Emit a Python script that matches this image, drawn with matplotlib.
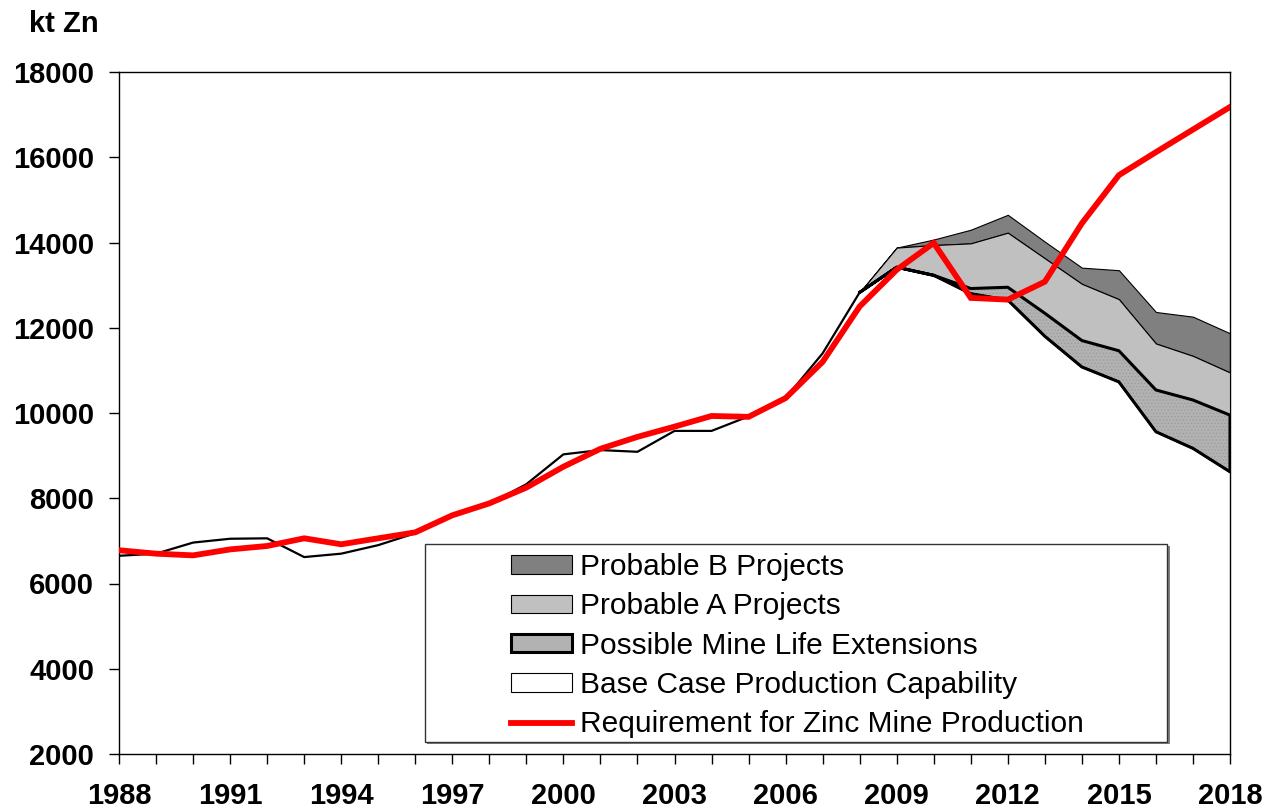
import numpy as np
import matplotlib
matplotlib.use("Agg")
import matplotlib.pyplot as plt
from matplotlib.patches import Patch, Rectangle
from matplotlib.lines import Line2D

plt.rcParams['font.family'] = ['Liberation Sans', 'DejaVu Sans']
plt.rcParams['hatch.linewidth'] = 0.6

# ---------------- data ----------------
years = list(range(1988, 2019))
base_case = [6650, 6700, 6960, 7050, 7060, 6620, 6700, 6900, 7180, 7600,
             7870, 8330, 9030, 9130, 9090, 9580, 9580, 9920, 10350, 11400,
             12830, 13420, 13230, 12800, 12650, 11800, 11080, 10730, 9560, 9170,
             8620]
requirement = [6780, 6700, 6660, 6800, 6880, 7060, 6920, 7060, 7200, 7600,
               7880, 8250, 8740, 9160, 9440, 9680, 9930, 9910, 10350, 11200,
               12500, 13360, 13990, 12700, 12660, 13080, 14450, 15580, 16120, 16650,
               17180]
proj_years = list(range(2008, 2019))
mine_life_ext = [0, 0, 0, 120, 300, 540, 620, 730, 980, 1135, 1330]
probable_a = [0, 460, 710, 1060, 1280, 1290, 1330, 1210, 1090, 1035, 1000]
probable_b = [0, 0, 130, 320, 420, 390, 380, 680, 740, 920, 920]

labels = ["Probable B Projects", "Probable A Projects",
          "Possible Mine Life Extensions", "Base Case Production Capability",
          "Requirement for Zinc Mine Production"]
yticks = list(range(2000, 18001, 2000))
xlabels_years = list(range(1988, 2019, 3))

# ---------------- figure ----------------
W, H = 1268, 810
fig = plt.figure(figsize=(W / 100, H / 100), dpi=100)
ax = fig.add_axes([119 / W, 1 - 754 / H, 1111 / W, 682 / H])

base_sub = np.array(base_case[years.index(2008):])
mine_top = base_sub + np.array(mine_life_ext)
a_top = mine_top + np.array(probable_a)
b_top = a_top + np.array(probable_b)

c_b, c_a, c_m = '#808080', '#c0c0c0', '#b2b2b2'

ax.fill_between(proj_years, a_top, b_top, facecolor=c_b, edgecolor='black', linewidth=0.8, zorder=2)
ax.fill_between(proj_years, mine_top, a_top, facecolor=c_a, edgecolor='black', linewidth=0.8, zorder=3)
ax.fill_between(proj_years, base_sub, mine_top, facecolor=c_m, edgecolor='none', zorder=4)
ax.fill_between(proj_years, base_sub, mine_top, facecolor='none', edgecolor='#9c9c9c',
                hatch='.....', linewidth=0, zorder=4)
ax.fill_between(proj_years, base_sub, mine_top, facecolor='none', edgecolor='black',
                linewidth=2.2, zorder=5)
ax.plot(years, base_case, color='black', linewidth=1.6, zorder=6)
ax.plot(years, requirement, color='#ff0000', linewidth=4.2, zorder=7,
        solid_joinstyle='miter')

ax.set_xlim(1988, 2018)
ax.set_ylim(2000, 18000)
ax.set_yticks(yticks)
ax.set_yticklabels([str(v) for v in yticks], fontsize=21, fontweight='bold')
ax.set_xticks(years)
ax.set_xticklabels([str(y) if y in xlabels_years else '' for y in years],
                   fontsize=21, fontweight='bold')
ax.tick_params(axis='y', direction='out', length=7, width=1, pad=11)
ax.tick_params(axis='x', direction='out', length=7, width=1, pad=13)
for s in ax.spines.values():
    s.set_linewidth(1.0)
    s.set_color('black')

fig.text(29 / W, 1 - 32 / H, "kt Zn", fontsize=21, fontweight='bold',
         ha='left', va='baseline')

# legend frame with slight shadow
fig.patches.append(Rectangle((427 / W, 1 - 744 / H), (1170 - 427) / W, (744 - 546) / H,
                             transform=fig.transFigure, facecolor='#808080',
                             edgecolor='none', zorder=9))
fig.patches.append(Rectangle((425 / W, 1 - 742 / H), (1167 - 425) / W, (742 - 544) / H,
                             transform=fig.transFigure, facecolor='white',
                             edgecolor='#333333', linewidth=1.0, zorder=10))

handles = [Patch(facecolor=c_b, edgecolor='black', linewidth=0.8),
           Patch(facecolor=c_a, edgecolor='black', linewidth=0.8),
           Patch(facecolor=c_m, edgecolor='black', linewidth=2.2),
           Patch(facecolor='white', edgecolor='black', linewidth=0.8),
           Line2D([0], [0], color='#ff0000', linewidth=4.2)]
leg = fig.legend(handles, labels, loc='upper left',
                 bbox_to_anchor=(511 / W, 1 - 553 / H), bbox_transform=fig.transFigure,
                 frameon=False, fontsize=21.5, borderpad=0, borderaxespad=0,
                 handlelength=2.04, handleheight=0.57, handletextpad=0.27,
                 labelspacing=0.38)
leg.set_zorder(11)

fig.savefig("out.png", dpi=100)
